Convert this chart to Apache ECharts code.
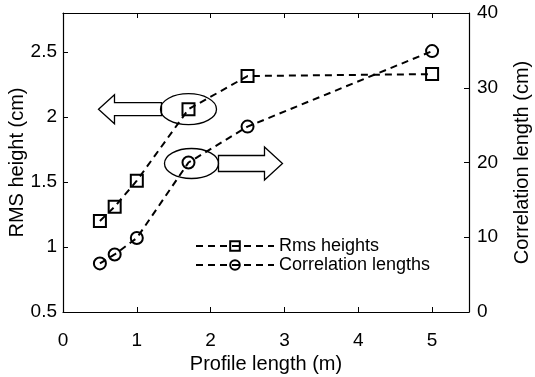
<!DOCTYPE html>
<html>
<head>
<meta charset="utf-8">
<script src="https://cdn.jsdelivr.net/npm/echarts@6/dist/echarts.min.js"></script>
<style>
  html, body { margin: 0; padding: 0; background: #fff; }
  #main { width: 535px; height: 377px; }
</style>
</head>
<body>
<div id="main"></div>
<script>
var chartDom = document.getElementById('main');
var myChart = echarts.init(chartDom);
var option;

const profileLengths = [0.5, 0.7, 1, 1.7, 2.5, 5];
const rmsHeights = [1.20, 1.31, 1.51, 2.06, 2.315, 2.33];
const corrLengths = [6.5, 7.7, 9.9, 20.0, 24.8, 34.9];

const font = 'Liberation Sans, Arial, sans-serif';

function pairs(xs, ys) {
  return xs.map(function (x, i) { return [x, ys[i]]; });
}

const tickStyle = { show: true, inside: true, length: 5, lineStyle: { color: '#000', width: 1 } };
const lineAxis = { show: true, onZero: false, lineStyle: { color: '#000', width: 1.2 } };
const labelStyle = { fontFamily: font, fontSize: 19, color: '#000' };
const nameStyle = { fontFamily: font, fontSize: 20, color: '#000' };

option = {
  animation: false,
  grid: { left: 63, right: 66, top: 13, bottom: 65, outerBoundsMode: 'none', containLabel: false },
  legend: {
    orient: 'vertical',
    left: 190,
    top: 232,
    itemWidth: 78,
    itemHeight: 12,
    itemGap: 1,
    textStyle: { fontFamily: font, fontSize: 18, lineHeight: 17, color: '#000' },
    data: ['Rms heights', 'Correlation lengths']
  },
  xAxis: [
    {
      type: 'value',
      min: 0,
      max: 5.5,
      interval: 1,
      name: 'Profile length (m)',
      nameLocation: 'middle',
      nameGap: 42,
      nameMoveOverlap: false,
      nameTextStyle: nameStyle,
      axisLine: lineAxis,
      axisTick: tickStyle,
      axisLabel: Object.assign({ margin: 19, showMaxLabel: false }, labelStyle),
      splitLine: { show: false }
    },
    {
      type: 'value',
      position: 'top',
      min: 0,
      max: 5.5,
      interval: 1,
      axisLine: lineAxis,
      axisTick: tickStyle,
      axisLabel: { show: false },
      splitLine: { show: false }
    }
  ],
  yAxis: [
    {
      type: 'value',
      min: 0.5,
      max: 2.8,
      interval: 0.5,
      name: 'RMS height (cm)',
      nameLocation: 'middle',
      nameGap: 36,
      nameMoveOverlap: false,
      nameTextStyle: nameStyle,
      axisLine: lineAxis,
      axisTick: tickStyle,
      axisLabel: Object.assign({ margin: 6, showMaxLabel: false }, labelStyle),
      splitLine: { show: false }
    },
    {
      type: 'value',
      position: 'right',
      min: 0,
      max: 40,
      interval: 10,
      name: 'Correlation length (cm)',
      nameLocation: 'middle',
      nameRotate: 90,
      nameGap: 43,
      nameMoveOverlap: false,
      nameTextStyle: nameStyle,
      axisLine: lineAxis,
      axisTick: tickStyle,
      axisLabel: Object.assign({ margin: 8 }, labelStyle),
      splitLine: { show: false }
    }
  ],
  series: [
    {
      name: 'Rms heights',
      type: 'line',
      xAxisIndex: 0,
      yAxisIndex: 0,
      data: pairs(profileLengths, rmsHeights),
      symbol: 'rect',
      symbolSize: 12,
      lineStyle: { color: '#000', width: 2, type: [7, 5] },
      itemStyle: { color: 'rgba(255,255,255,0)', borderColor: '#000', borderWidth: 2 },
      z: 3
    },
    {
      name: 'Correlation lengths',
      type: 'line',
      xAxisIndex: 0,
      yAxisIndex: 1,
      data: pairs(profileLengths, corrLengths),
      symbol: 'circle',
      symbolSize: 12,
      lineStyle: { color: '#000', width: 2, type: [7, 5] },
      itemStyle: { color: 'rgba(255,255,255,0)', borderColor: '#000', borderWidth: 2 },
      z: 3
    }
  ]
};

option && myChart.setOption(option);

// annotations: ellipses around the 1.7 m points with arrows to their axes
const p1 = myChart.convertToPixel({ xAxisIndex: 0, yAxisIndex: 0 }, [profileLengths[3], rmsHeights[3]]);
const p2 = myChart.convertToPixel({ xAxisIndex: 0, yAxisIndex: 1 }, [profileLengths[3], corrLengths[3]]);
const annStyle = { fill: '#fff', stroke: '#000', lineWidth: 1.3 };

function arrow(x0, x1, y, shaftH, headH, headL) {
  // x0 = shaft start, x1 = tip
  const d = x1 > x0 ? 1 : -1;
  const hb = x1 - d * headL;
  return [
    [x0, y - shaftH / 2], [hb, y - shaftH / 2], [hb, y - headH / 2],
    [x1, y], [hb, y + headH / 2], [hb, y + shaftH / 2], [x0, y + shaftH / 2]
  ];
}

myChart.setOption({
  graphic: [
    { type: 'polygon', shape: { points: arrow(p1[0] - 27, p1[0] - 90, p1[1], 13, 29, 16) }, style: annStyle, z: 1 },
    { type: 'ellipse', shape: { cx: p1[0], cy: p1[1], rx: 28, ry: 15.5 }, style: { fill: 'none', stroke: '#000', lineWidth: 1.3 }, z: 1 },
    { type: 'polygon', shape: { points: arrow(p2[0] + 30, p2[0] + 94, p2[1] + 1, 16, 33, 18) }, style: annStyle, z: 1 },
    { type: 'ellipse', shape: { cx: p2[0] + 3, cy: p2[1] + 1, rx: 27, ry: 15 }, style: { fill: 'none', stroke: '#000', lineWidth: 1.3 }, z: 1 }
  ]
});
</script>
</body>
</html>
